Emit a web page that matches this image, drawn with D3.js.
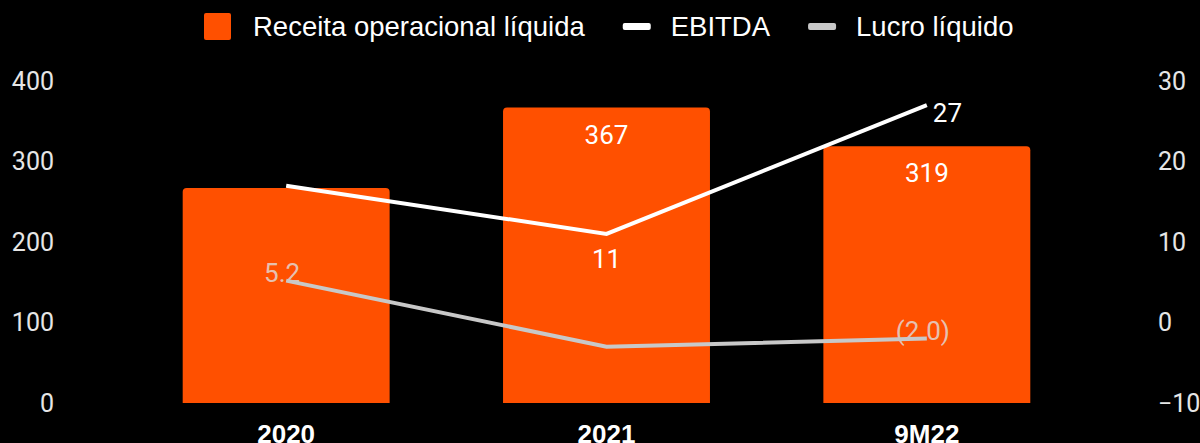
<!DOCTYPE html>
<html>
<head>
  <meta charset="utf-8">
  <title>Receita, EBITDA e Lucro</title>
  <script src="https://d3js.org/d3.v7.min.js"></script>
  <style>
    html, body { margin: 0; padding: 0; background: #000; overflow: hidden; }
    .tick text { font-family: Roboto, "Liberation Sans", sans-serif; font-size: 25px; fill: #e6e6e6; }
  </style>
</head>
<body>
<script>
  // dados
  var categories = ["2020", "2021", "9M22"];
  var receita = [267, 367, 319];          // eixo esquerdo
  var ebitda = [17, 11, 27];               // eixo direito
  var lucro = [5.2, -3.0, -2.0];           // eixo direito
  var leftTicks = [0, 100, 200, 300, 400];
  var rightTicks = [-10, 0, 10, 20, 30];

  // quais rótulos aparecem e onde
  var receitaLabelShow = [false, true, true];
  var ebitdaLabelPos = [null, "below", "right"];
  var lucroLabelPos = ["above", null, "above"];

  var width = 1200, height = 443;
  var orange = "#ff5000", white = "#ffffff", grey = "#c8c8c8";

  var svg = d3.select("body").append("svg")
    .attr("width", width).attr("height", height)
    .style("display", "block");

  var x = d3.scaleBand()
    .domain(categories)
    .range([126, 1087])
    .paddingInner(0.354)
    .paddingOuter(0.177);

  var yLeft = d3.scaleLinear().domain([0, 400]).range([403, 81]);
  var yRight = d3.scaleLinear().domain([-10, 30]).range([403, 81]);

  // eixos
  svg.append("g")
    .attr("transform", "translate(54,0)")
    .call(d3.axisLeft(yLeft).tickValues(leftTicks).tickSize(0).tickPadding(0))
    .call(function (g) { g.select(".domain").remove(); });

  svg.append("g")
    .attr("transform", "translate(1158,0)")
    .call(d3.axisRight(yRight).tickValues(rightTicks).tickSize(0).tickPadding(0))
    .call(function (g) { g.select(".domain").remove(); });

  // barras com cantos superiores arredondados
  function barPath(d, i) {
    var x0 = x(categories[i]), w = x.bandwidth();
    var y0 = yLeft(d), y1 = yLeft(0), r = 4;
    return "M" + x0 + "," + y1 +
      "V" + (y0 + r) + "Q" + x0 + "," + y0 + " " + (x0 + r) + "," + y0 +
      "H" + (x0 + w - r) + "Q" + (x0 + w) + "," + y0 + " " + (x0 + w) + "," + (y0 + r) +
      "V" + y1 + "Z";
  }

  svg.append("g").selectAll("path")
    .data(receita)
    .enter().append("path")
    .attr("d", barPath)
    .attr("fill", orange);

  var cx = function (i) { return x(categories[i]) + x.bandwidth() / 2; };

  svg.append("g").selectAll("text")
    .data(receita)
    .enter().append("text")
    .filter(function (d, i) { return receitaLabelShow[i]; })
    .attr("x", function (d) { return cx(receita.indexOf(d)); })
    .attr("y", function (d) { return yLeft(d) + 36; })
    .attr("text-anchor", "middle")
    .style("font-family", "Roboto, 'Liberation Sans', sans-serif")
    .style("font-size", "26px")
    .attr("fill", white)
    .text(function (d) { return d; });

  // rótulos das linhas
  var fmtLucro = function (v) {
    return v < 0 ? "(" + d3.format(".1f")(-v) + ")" : d3.format(".1f")(v);
  };

  svg.append("g").selectAll("text")
    .data(ebitda)
    .enter().append("text")
    .each(function (d, i) {
      var pos = ebitdaLabelPos[i];
      var t = d3.select(this);
      if (!pos) { t.remove(); return; }
      var px = cx(i), py = yRight(d);
      if (pos === "below") {
        t.attr("x", px).attr("y", py + 34).attr("text-anchor", "middle");
      } else {
        t.attr("x", px + 6).attr("y", py + 17).attr("text-anchor", "start");
      }
      t.style("font-family", "Roboto, 'Liberation Sans', sans-serif")
        .style("font-size", "26px")
        .attr("fill", white)
        .text(d);
    });

  svg.append("g").selectAll("text")
    .data(lucro)
    .enter().append("text")
    .each(function (d, i) {
      var t = d3.select(this);
      if (!lucroLabelPos[i]) { t.remove(); return; }
      t.attr("x", cx(i) - 4).attr("y", yRight(d) + 1)
        .attr("text-anchor", "middle")
        .style("font-family", "Roboto, 'Liberation Sans', sans-serif")
        .style("font-size", "26px")
        .attr("fill", "#e0e0e0").attr("fill-opacity", 0.8)
        .text(fmtLucro(d));
    });

  // linhas
  var line = d3.line()
    .x(function (d, i) { return cx(i); })
    .y(function (d) { return yRight(d); });

  svg.append("path")
    .datum(lucro)
    .attr("d", line)
    .attr("fill", "none")
    .attr("stroke", grey)
    .attr("stroke-width", 4);

  svg.append("path")
    .datum(ebitda)
    .attr("d", line)
    .attr("fill", "none")
    .attr("stroke", white)
    .attr("stroke-width", 4);

  // categorias
  svg.append("g").selectAll("text")
    .data(categories)
    .enter().append("text")
    .attr("x", function (d) { return x(d) + x.bandwidth() / 2; })
    .attr("y", 443)
    .attr("text-anchor", "middle")
    .style("font-family", "'Liberation Sans', Arial, sans-serif")
    .style("font-size", "26px")
    .style("font-weight", "bold")
    .attr("fill", white)
    .text(function (d) { return d; });

  // legenda
  var legendItems = [
    { name: "Receita operacional líquida", color: orange, type: "bar" },
    { name: "EBITDA", color: white, type: "line" },
    { name: "Lucro líquido", color: grey, type: "line" }
  ];

  var legend = svg.append("g");
  var lx = 204;
  legendItems.forEach(function (item) {
    if (item.type === "bar") {
      legend.append("rect")
        .attr("x", lx).attr("y", 13).attr("width", 27).attr("height", 27)
        .attr("rx", 2).attr("fill", item.color);
      lx += 49;
    } else {
      legend.append("rect")
        .attr("x", lx).attr("y", 23).attr("width", 28).attr("height", 7)
        .attr("rx", 2).attr("fill", item.color);
      lx += 48;
    }
    var t = legend.append("text")
      .attr("x", lx).attr("y", 36)
      .style("font-family", "'Liberation Sans', Arial, sans-serif")
      .style("font-size", "27.5px")
      .attr("fill", white)
      .text(item.name);
    lx += t.node().getComputedTextLength() + 38;
  });
</script>
</body>
</html>
